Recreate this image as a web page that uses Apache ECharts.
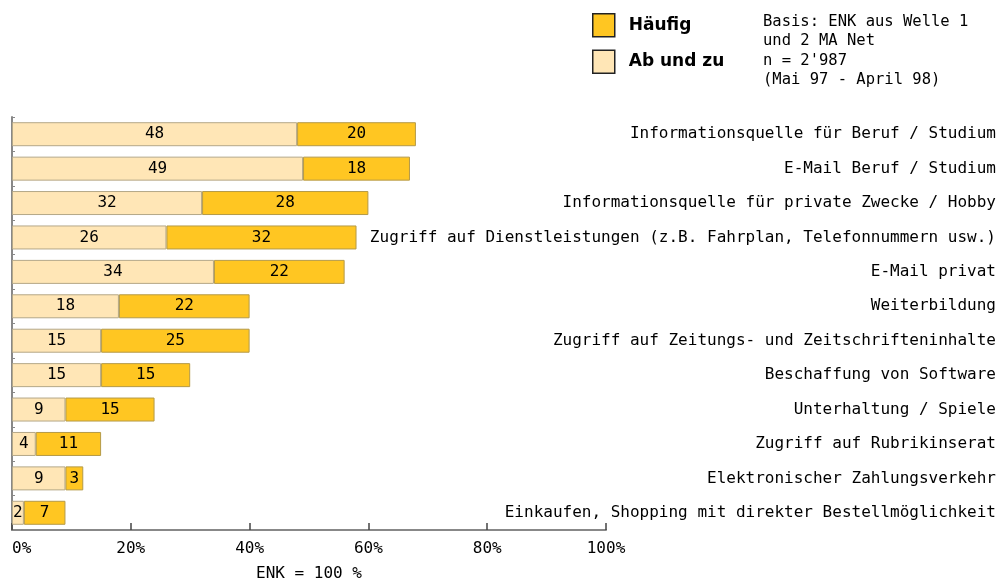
<!DOCTYPE html>
<html><head><meta charset="utf-8">
<script src="https://cdn.jsdelivr.net/npm/echarts@6/dist/echarts.min.js"></script>
<style>html,body{margin:0;padding:0;background:#fff}#c{width:1002px;height:583px}</style>
</head><body><div id="c"></div>
<script>
var categories = [
  'Informationsquelle für Beruf / Studium',
  'E-Mail Beruf / Studium',
  'Informationsquelle für private Zwecke / Hobby',
  'Zugriff auf Dienstleistungen (z.B. Fahrplan, Telefonnummern usw.)',
  'E-Mail privat',
  'Weiterbildung',
  'Zugriff auf Zeitungs- und Zeitschrifteninhalte',
  'Beschaffung von Software',
  'Unterhaltung / Spiele',
  'Zugriff auf Rubrikinserat',
  'Elektronischer Zahlungsverkehr',
  'Einkaufen, Shopping mit direkter Bestellmöglichkeit'
];
var abUndZu = [48, 49, 32, 26, 34, 18, 15, 15, 9, 4, 9, 2];
var haeufig = [20, 18, 28, 32, 22, 22, 25, 15, 15, 11, 3, 7];
var xTicks = [0, 20, 40, 60, 80, 100];
var basisLines = ['Basis: ENK aus Welle 1', 'und 2 MA Net', "n = 2'987", '(Mai 97 - April 98)'];

var font = 'DejaVu Sans';
var mono = 'DejaVu Sans Mono';
var chart = echarts.init(document.getElementById('c'));
chart.setOption({
  animation: false,
  textStyle: {fontFamily: font},
  grid: {left: 12, right: 396, top: 117, bottom: 53, containLabel: false, outerBoundsMode: 'none'},
  legend: {
    data: ['Häufig', 'Ab und zu'],
    orient: 'vertical', left: 592, top: 13, padding: 0,
    itemWidth: 22, itemHeight: 23, itemGap: 12,
    itemStyle: {borderColor: '#222', borderWidth: 1.5},
    textStyle: {fontFamily: font, fontWeight: 'bold', fontSize: 17, color: '#000', padding: [0, 0, 0, 9]},
    icon: 'rect'
  },
  graphic: [{
    type: 'text', left: 763, top: 12,
    style: {text: basisLines.join('\n'), font: '15.5px ' + mono, lineHeight: 19.5, fill: '#000'}
  }],
  xAxis: {
    type: 'value', min: 0, max: 100, interval: 20,
    name: 'ENK = 100 %', nameLocation: 'middle', nameGap: 36,
    nameTextStyle: {fontSize: 16, color: '#000', fontFamily: mono},
    axisLine: {show: true, onZero: false, lineStyle: {color: '#888', width: 2}},
    axisTick: {show: true, inside: true, length: 7, lineStyle: {color: '#444', width: 1.5}},
    axisLabel: {formatter: function (v) { return xTicks.indexOf(v) >= 0 ? v + '%' : ''; }, fontSize: 16, color: '#000', fontFamily: mono, margin: 11, alignMinLabel: 'left'},
    splitLine: {show: false}
  },
  yAxis: [{
    type: 'category', data: categories, inverse: true, position: 'left',
    axisLine: {show: true, onZero: false, lineStyle: {color: '#888', width: 2}},
    axisTick: {show: true, inside: true, length: 3, lineStyle: {color: '#888'}},
    axisLabel: {show: false}
  }, {
    type: 'category', data: categories, inverse: true, position: 'right',
    axisLine: {show: false}, axisTick: {show: false},
    axisLabel: {show: true, align: 'right', margin: 390, fontSize: 16, color: '#000', fontFamily: mono}
  }],
  series: [{
    name: 'Ab und zu', type: 'bar', stack: 's', data: abUndZu, barWidth: 24, yAxisIndex: 0,
    itemStyle: {color: '#FFE6B6', borderColor: '#B4A888', borderWidth: 1},
    label: {show: true, position: 'inside', color: '#000', fontSize: 16, fontFamily: mono}
  }, {
    name: 'Häufig', type: 'bar', stack: 's', data: haeufig, barWidth: 24, yAxisIndex: 0,
    itemStyle: {color: '#FFC622', borderColor: '#B49A48', borderWidth: 1},
    label: {show: true, position: 'inside', color: '#000', fontSize: 16, fontFamily: mono}
  }]
});
</script></body></html>
